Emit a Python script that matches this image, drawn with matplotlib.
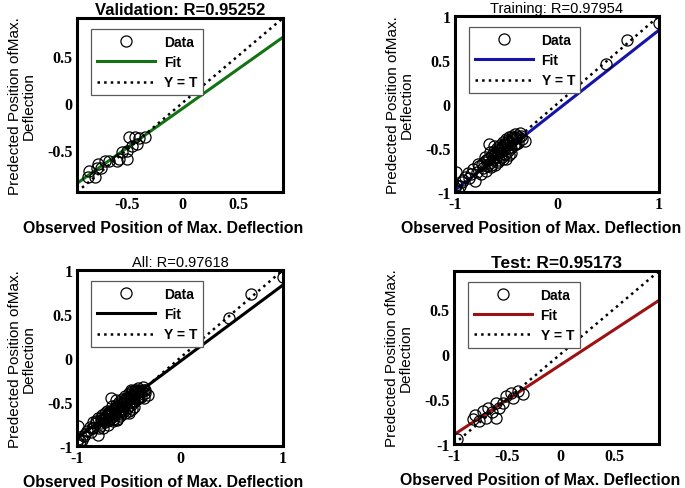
import numpy as np
import matplotlib
matplotlib.use('Agg')
import matplotlib.pyplot as plt
from matplotlib import font_manager

# data (Target, Output)
val_t = [-0.43, -0.39, -0.48, -0.34, -0.41, -0.46, -0.50, -0.55, -0.50, -0.57,
         -0.59, -0.66, -0.70, -0.76, -0.77, -0.73, -0.84, -0.79, -0.85]
val_y = [-0.36, -0.38, -0.36, -0.36, -0.44, -0.46, -0.51, -0.52, -0.60, -0.60,
         -0.62, -0.62, -0.62, -0.65, -0.70, -0.70, -0.73, -0.79, -0.79]

train_t = [1.00, 0.69, 0.48,
           -1.00, -0.99, -0.99, -0.97, -0.93, -0.90, -0.87, -0.84, -0.80, -0.78,
           -0.76, -0.75, -0.73, -0.72, -0.70, -0.69, -0.68, -0.67, -0.66, -0.65,
           -0.64, -0.63, -0.62, -0.61, -0.60, -0.59, -0.58, -0.57, -0.56, -0.55,
           -0.54, -0.53, -0.52, -0.51, -0.50, -0.49, -0.48, -0.47, -0.46, -0.45,
           -0.44, -0.43, -0.42, -0.41, -0.40, -0.38, -0.36, -0.34, -0.31, -0.62,
           -0.58, -0.53, -0.47, -0.71, -0.66, -0.77, -0.82, -0.45, -0.50,
           -0.60, -0.57, -0.55, -0.52, -0.49, -0.46, -0.44, -0.42, -0.40, -0.39,
           -0.37, -0.35, -0.63, -0.61, -0.56, -0.54, -0.51, -0.48, -0.43, -0.41,
           -0.74, -0.70, -0.67, -0.65, -0.86, -0.92, -0.95]
train_y = [0.92, 0.73, 0.45,
           -0.96, -0.77, -0.92, -0.99, -0.89, -0.83, -0.78, -0.80, -0.87, -0.77,
           -0.70, -0.79, -0.73, -0.66, -0.76, -0.70, -0.62, -0.45, -0.67, -0.72,
           -0.58, -0.64, -0.53, -0.69, -0.60, -0.50, -0.56, -0.64, -0.47, -0.54,
           -0.60, -0.43, -0.50, -0.57, -0.40, -0.47, -0.53, -0.38, -0.44, -0.50,
           -0.36, -0.41, -0.47, -0.34, -0.39, -0.44, -0.33, -0.40, -0.42, -0.48,
           -0.66, -0.62, -0.58, -0.60, -0.55, -0.68, -0.74, -0.56, -0.63,
           -0.55, -0.51, -0.58, -0.45, -0.43, -0.49, -0.40, -0.37, -0.45, -0.36,
           -0.38, -0.36, -0.61, -0.57, -0.52, -0.49, -0.46, -0.41, -0.39, -0.45,
           -0.68, -0.64, -0.61, -0.69, -0.84, -0.86, -0.93]

test_t = [-0.47, -0.40, -0.35, -0.51, -0.45, -0.54, -0.61, -0.68, -0.58,
          -0.73, -0.64, -0.80, -0.70, -0.77, -0.61, -0.82, -0.97]
test_y = [-0.43, -0.41, -0.45, -0.47, -0.49, -0.54, -0.54, -0.60, -0.60,
          -0.63, -0.65, -0.68, -0.71, -0.74, -0.71, -0.72, -0.94]

# "All" is the union of the three subsets
all_t = train_t + val_t + test_t
all_y = train_y + val_y + test_y

titles = ['Validation: R=0.95252', 'Training: R=0.97954',
          'All: R=0.97618', 'Test: R=0.95173']
fit_slope = [0.84, 0.91, 0.87, 0.776]
fit_icpt = [-0.06, -0.07, -0.04, -0.12]
fit_colors = ['#137313', '#1414a8', 'black', '#9c1212']
lims = [(-0.95, 0.9), (-1, 1), (-1, 1), (-1, 0.92)]
xticks = [[-0.5, 0, 0.5], [-1, 0, 1], [-1, 0, 1], [-1, -0.5, 0, 0.5]]
yticks = [[-0.5, 0, 0.5], [-1, -0.5, 0, 0.5, 1], [-1, -0.5, 0, 0.5, 1],
          [-1, -0.5, 0, 0.5]]
title_size = [12, 10.5, 10.5, 12.5]
title_bold = [True, False, False, True]

datasets = [(val_t, val_y), (train_t, train_y), (all_t, all_y), (test_t, test_y)]

W, H = 685, 489
# axes boxes in pixels: left, top, right, bottom
boxes = [(77, 19, 283, 193), (455, 17, 659, 193),
         (77, 271, 283, 447), (454, 272, 659, 445)]

# narrow face for the y labels if there is one
names = set(f.name for f in font_manager.fontManager.ttflist)
if 'Liberation Sans Narrow' in names:
    ylab_font, ylab_size = 'Liberation Sans Narrow', 12
else:
    ylab_font, ylab_size = 'Liberation Sans', 11

fig = plt.figure(figsize=(6.85, 4.89), dpi=100)

for i in range(4):
    l, t, r, b = boxes[i]
    ax = fig.add_axes([l / W, 1 - b / H, (r - l) / W, (b - t) / H])
    lo, hi = lims[i]
    tt, yy = datasets[i]

    ax.plot(tt, yy, 'o', mfc='none', mec='black', ms=8, mew=0.9,
            label='Data', zorder=3)
    xs = np.array([lo, hi])
    ax.plot(xs, fit_slope[i] * xs + fit_icpt[i], '-', color=fit_colors[i],
            lw=2.2, label='Fit', zorder=2)
    ax.plot(xs, xs, ':', color='black', lw=1.8, label='Y = T', zorder=2)

    ax.set_xlim(lo, hi)
    ax.set_ylim(lo, hi)
    ax.set_xticks(xticks[i])
    ax.set_yticks(yticks[i])
    ax.set_xticklabels(['%g' % v for v in xticks[i]])
    ax.set_yticklabels(['%g' % v for v in yticks[i]])
    for lab in ax.get_xticklabels() + ax.get_yticklabels():
        lab.set_fontfamily('Liberation Serif')
        lab.set_fontweight('bold')
        lab.set_fontsize(11.5)
    ax.tick_params(direction='in', length=0, pad=3)
    for sp in ax.spines.values():
        sp.set_linewidth(2.2)

    ax.set_title(titles[i], fontsize=title_size[i],
                 fontweight='bold' if title_bold[i] else 'normal',
                 family='Liberation Sans', pad=3)
    ax.set_xlabel('Observed Position of Max. Deflection', fontsize=11.4,
                  fontweight='bold', family='Liberation Sans')
    ax.xaxis.set_label_coords(0.42, -0.16)
    ax.set_ylabel('Predected Position ofMax.\nDeflection', fontsize=ylab_size,
                  family=ylab_font, linespacing=1.0)
    ax.yaxis.set_label_coords(-0.2, 0.5)

    leg = ax.legend(loc='upper left', bbox_to_anchor=(0.07, 0.935),
                    fancybox=False, edgecolor='0.35', framealpha=1,
                    prop={'family': 'Liberation Sans', 'weight': 'bold', 'size': 10},
                    handlelength=4.2, labelspacing=0.45, borderpad=0.4,
                    handletextpad=0.6, borderaxespad=0)
    leg.get_frame().set_linewidth(0.9)

fig.savefig('out.png', dpi=100)
